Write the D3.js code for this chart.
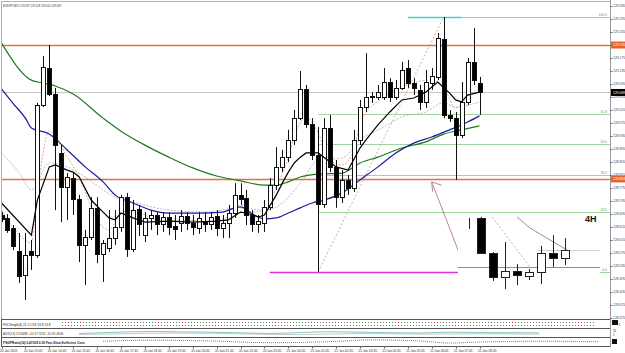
<!DOCTYPE html>
<html><head><meta charset="utf-8">
<script src="https://cdn.jsdelivr.net/npm/d3@7"></script>
<style>body{margin:0;background:#fff;overflow:hidden}svg{display:block}text{font-family:"Liberation Sans",Arial,sans-serif}</style>
</head><body><svg id="c" width="625" height="353"></svg>
<script>
// ---------- DATA ----------
const symbolTitle = "EURJPY,M15  129.097 129.118 129.050 129.069";
const timeLabels = ["20 Jan 2015","20 Jan 13:45","20 Jan 14:45","20 Jan 15:45","20 Jan 16:45","20 Jan 17:45","20 Jan 18:45","20 Jan 19:45","20 Jan 20:45","20 Jan 21:45","20 Jan 22:45","20 Jan 23:45","21 Jan 00:45","21 Jan 01:45","21 Jan 02:45","21 Jan 03:45","21 Jan 04:45","21 Jan 05:45","21 Jan 06:45","21 Jan 07:45","21 Jan 08:45"];
const priceTicks = [129.335,129.295,129.255,129.215,129.175,129.135,129.095,129.055,129.015,128.975,128.935,128.895,128.855,128.815,128.775,128.735,128.695,128.655,128.615,128.575,128.535,128.495,128.455,128.415,128.375];

const open = [128.692,128.683,128.652,128.581,128.507,128.581,128.569,129.030,129.144,129.064,
128.883,128.778,128.806,128.741,128.600,128.624,128.714,128.572,128.590,128.621,
128.655,128.747,128.587,128.710,128.630,128.683,128.692,128.664,128.686,128.658,
128.667,128.689,128.667,128.652,128.673,128.664,128.689,128.652,128.667,128.698,
128.754,128.744,128.692,128.664,128.667,128.717,128.784,128.840,128.870,128.923,
128.990,129.080,128.972,128.877,128.726,128.960,128.840,128.747,128.800,128.775,
128.923,129.024,129.058,129.055,129.055,129.101,129.055,129.083,129.144,129.098,
129.077,129.040,129.098,129.117,129.234,129.000,128.990,128.938,129.040,129.163,
129.098];
const high = [128.701,128.695,128.661,128.637,128.637,128.615,129.037,129.181,129.215,129.083,
128.907,128.821,128.824,128.754,128.646,128.747,128.747,128.615,128.707,128.707,
128.754,128.760,128.738,128.723,128.701,128.707,128.701,128.701,128.701,128.692,
128.707,128.701,128.692,128.701,128.701,128.701,128.707,128.692,128.723,128.790,
128.790,128.769,128.707,128.692,128.738,128.806,128.901,128.892,128.954,129.015,
129.135,129.092,128.990,128.963,128.990,129.000,128.861,128.830,128.815,128.954,
129.046,129.190,129.070,129.092,129.144,129.113,129.107,129.163,129.169,129.113,
129.092,129.138,129.144,129.252,129.301,129.015,129.009,129.101,129.175,129.267,
129.117];
const low = [128.670,128.637,128.584,128.483,128.430,128.523,128.560,129.024,129.058,128.707,
128.670,128.677,128.692,128.547,128.477,128.615,128.544,128.486,128.578,128.600,
128.640,128.563,128.578,128.627,128.609,128.646,128.630,128.640,128.630,128.615,
128.640,128.646,128.630,128.634,128.640,128.646,128.627,128.621,128.621,128.683,
128.723,128.661,128.640,128.637,128.640,128.707,128.769,128.824,128.855,128.907,
128.984,128.960,128.861,128.517,128.714,128.824,128.714,128.729,128.754,128.763,
128.907,129.009,129.037,129.046,129.046,129.040,129.046,129.077,129.083,129.061,
129.015,129.021,129.077,129.107,128.990,128.978,128.800,128.929,129.030,129.092,
129.000];
const close = [128.680,128.646,128.597,128.504,128.569,128.569,129.030,129.147,129.064,128.907,
128.778,128.809,128.741,128.600,128.624,128.714,128.572,128.606,128.621,128.655,
128.747,128.587,128.707,128.664,128.683,128.692,128.664,128.686,128.655,128.649,
128.689,128.667,128.655,128.683,128.664,128.686,128.652,128.667,128.698,128.754,
128.741,128.692,128.664,128.673,128.717,128.784,128.840,128.870,128.923,128.990,
129.080,128.972,128.877,128.726,128.960,128.840,128.747,128.800,128.775,128.923,
129.024,129.055,129.055,129.070,129.101,129.055,129.083,129.138,129.098,129.083,
129.040,129.101,129.120,129.237,129.000,128.990,128.938,129.040,129.163,129.107,
129.069];

// moving averages: [bar index, price]
const blackMA = [[0,128.729],[5,128.630],[6,128.738],[8,128.840],[9,128.846],[11,128.830],[12,128.824],[13,128.809],[15,128.738],[17,128.701],[18,128.683],[19,128.677],[20,128.698],[22,128.683],[24,128.670],[28,128.673],[32,128.670],[36,128.673],[38,128.677],[40,128.701],[41,128.698],[43,128.686],[44,128.692],[45,128.723],[46,128.754],[47,128.790],[48,128.824],[49,128.852],[50,128.870],[51,128.883],[53,128.883],[55,128.855],[56,128.840],[58,128.830],[60,128.898],[61,128.923],[63,128.969],[65,129.009],[67,129.046],[69,129.052],[71,129.070],[73,129.101],[75,129.067],[76,129.046],[77,129.040],[78,129.061],[80,129.070]];
const blueMA = [[0,129.080],[2,129.034],[4,128.990],[5,128.960],[8,128.941],[11,128.892],[14,128.840],[17,128.794],[19,128.754],[22,128.729],[25,128.707],[28,128.698],[33,128.698],[37,128.701],[39,128.714],[40,128.717],[42,128.695],[44,128.680],[46,128.683],[48,128.698],[50,128.714],[52,128.729],[54,128.738],[57,128.760],[60,128.800],[63,128.840],[66,128.883],[69,128.913],[72,128.932],[75,128.954],[77,128.969],[78,128.978],[80,128.997]];
const greenMA = [[0,129.221],[5,129.107],[7,129.098],[9,129.089],[12,129.064],[17,128.990],[20,128.950],[24,128.907],[28,128.870],[32,128.837],[36,128.812],[40,128.797],[44,128.784],[46,128.784],[48,128.794],[50,128.809],[53,128.818],[57,128.821],[60,128.852],[63,128.870],[67,128.898],[71,128.917],[74,128.941],[77,128.954],[80,128.966]];
const salmonMA = [[0,128.707],[3,128.630],[5,128.606],[6,128.760],[8,128.950],[11,128.870],[13,128.809],[15,128.717],[17,128.655],[18,128.646],[20,128.698],[22,128.707],[26,128.677],[30,128.677],[34,128.673],[38,128.686],[40,128.723],[42,128.701],[44,128.707],[46,128.778],[48,128.870],[49,128.932],[51,128.994],[53,128.944],[55,128.861],[57,128.846],[59,128.892],[60,128.975],[64,129.055],[67,129.086],[72,129.107],[74,129.086],[76,129.021],[78,129.055],[80,129.083]];
const grayMA = [[0,128.883],[3,128.821],[5,128.769],[8,128.852],[11,128.840],[14,128.809],[17,128.769],[19,128.747],[22,128.732],[28,128.707],[34,128.701],[40,128.714],[44,128.707],[47,128.729],[50,128.790],[53,128.861],[57,128.867],[60,128.923],[64,128.963],[67,128.994],[71,129.009],[74,129.037],[76,129.024],[80,129.040]];

const orangeLevels = [129.215, 128.803];
const bidPrice = 129.069;
const fibLabels = ["100.0","61.8","50.0","38.2","23.6","0.0"];
const fibRatios = [1, 0.618, 0.5, 0.382, 0.236, 0];
const fibLowBar = 53, fibLowPrice = 128.517, fibHighBar = 74, fibHighPrice = 129.301;
const cyanLine = {from: 68, to: 77.1, price: 129.301};
const magentaLine = {from: 44.9, to: 76.4, price: 128.517};
const arrowPts = [[72.0, 128.794],[77.3, 128.542]];

// 4H inset (pasted picture)
const insetOpen  = [null,128.683,128.575,128.501,128.520,128.504,128.517,128.575,128.560];
const insetHigh  = [128.683,128.686,128.578,128.609,128.541,128.526,128.597,128.630,128.621];
const insetLow   = [128.649,128.572,128.489,128.464,128.476,128.492,128.480,128.532,128.538];
const insetClose = [null,128.575,128.501,128.520,128.507,128.517,128.575,128.560,128.584];
const insetDashed = [[1.92,128.686],[5.08,128.532]];
const insetGrayLine = [[4.0,128.686],[5.08,128.652],[8.17,128.584]];
const insetOrange = {from:-0.92, to:10.9, price:128.532};
const insetGrayH = {from:5.75, to:10.9, price:128.584};

// sub windows
const sub1Text = "FXCSingle(4) 21.2 13.8 13.8 13.8";
const sub1Marks = "ggrgg.r.g..r...g.rr..g...r....g.r..g....r..rg...g..r.g.......r..g...g..r........gg.r.......r......g..r....g.....r...g.......r..g...r....g......r.g....r..g.....g...r.....g..r.....";
const sub2Text = "ADX(14) 25.8488 +DI:27.9211 -DI:29.4906";
const adxTeal = [[13,22],[18,28],[25,35],[30,32],[35,30],[40,26],[45,22],[50,28],[55,33],[60,30],[65,27],[70,25],[75,30],[80,28],[90,26]];
const adxGray = [[13,16],[20,20],[30,25],[40,20],[50,15],[60,22],[70,18],[80,20],[90,18]];
const sub3Text = "PSGPRatio(14) 0.47308 0.05  Fast,Slow,Sufficient Conv";
const sub3Line = [[17,0.2],[25,0.5],[35,0.3],[45,-0.2],[55,0.1],[62,0.6],[70,0.3],[75,-0.3],[80,0.0],[90,0.2],[100,0.1]];

// ---------- DRAW ----------
const svg = d3.select('#c');
svg.append('rect').attr('width',625).attr('height',353).attr('fill','#fff');
const R = 610, MB = 319;
const x = d3.scaleLinear().domain([0,80]).range([1.5,479.5]);
const y = d3.scaleLinear().domain([129.3535,128.372]).range([0,319]);
const xi = d3.scaleLinear().domain([0,8]).range([469,565]);

const defs = svg.append('defs');
defs.append('clipPath').attr('id','mainClip').append('rect').attr('x',1).attr('y',2).attr('width',R-1).attr('height',MB-2);
const g = svg.append('g').attr('clip-path','url(#mainClip)');

// horizontal bid line
g.append('line').attr('x1',0).attr('x2',R).attr('y1',Math.round(y(bidPrice))+0.5).attr('y2',Math.round(y(bidPrice))+0.5).attr('stroke','#c8c8c8').attr('stroke-width',1);

// fib levels (100 level visible only right of the high)
fibRatios.forEach((r,k)=>{
  const p = fibLowPrice + r*(fibHighPrice-fibLowPrice);
  const yy = Math.round(y(p))+0.5;
  const start = r===1 ? x(fibHighBar) : x(fibLowBar);
  g.append('line').attr('x1',start).attr('x2',R).attr('y1',yy).attr('y2',yy).attr('stroke','#9fd69f').attr('stroke-width',1);
  svg.append('text').attr('x',607).attr('y',yy-1.2).attr('text-anchor','end').attr('font-size',3.4).attr('fill','#58a858').text(fibLabels[k]);
});
// fib diagonal
g.append('line').attr('x1',x(fibLowBar)).attr('y1',y(fibLowPrice)).attr('x2',x(fibHighBar)).attr('y2',y(fibHighPrice))
 .attr('stroke','#d9907c').attr('stroke-width',0.8).attr('stroke-dasharray','2,2');

// orange levels
orangeLevels.forEach(p=>{
  const yy = Math.round(y(p))+0.5;
  g.append('line').attr('x1',0).attr('x2',R).attr('y1',yy).attr('y2',yy).attr('stroke','#e8703c').attr('stroke-width',1.3);
});
// cyan and magenta
const hseg = (o,col,w)=>{const yy=Math.round(y(o.price))+0.5; g.append('line').attr('x1',x(o.from)).attr('x2',x(o.to)).attr('y1',yy).attr('y2',yy).attr('stroke',col).attr('stroke-width',w);};
hseg(cyanLine,'#3fd3cf',1.6);
hseg(magentaLine,'#e22ee2',1.5);

// MAs
const lineGen = d3.line().x(d=>x(d[0])).y(d=>y(d[1]));
const smooth = d3.line().x(d=>x(d[0])).y(d=>y(d[1])).curve(d3.curveMonotoneX);
g.append('path').attr('d',smooth(grayMA)).attr('fill','none').attr('stroke','#a8a8a8').attr('stroke-width',0.8).attr('stroke-dasharray','2,1.5');
g.append('path').attr('d',smooth(salmonMA)).attr('fill','none').attr('stroke','#e0957a').attr('stroke-width',0.8).attr('stroke-dasharray','2,1.5');
g.append('path').attr('d',smooth(greenMA)).attr('fill','none').attr('stroke','#1f7a1f').attr('stroke-width',1.2);
g.append('path').attr('d',smooth(blueMA)).attr('fill','none').attr('stroke','#1c1c9c').attr('stroke-width',1.2);

// candles
const bars = open.map((o,i)=>({i,o,h:high[i],l:low[i],c:close[i]}));
const cg = g.append('g');
bars.forEach(b=>{
  const cx = Math.round(x(b.i));
  cg.append('line').attr('x1',cx+0.5).attr('x2',cx+0.5).attr('y1',y(b.h)).attr('y2',y(b.l)).attr('stroke','#111').attr('stroke-width',1);
  const top = Math.round(y(Math.max(b.o,b.c))), bot = Math.round(y(Math.min(b.o,b.c)));
  const up = b.c >= b.o;
  cg.append('rect').attr('x',cx-2+0.5).attr('y',top+0.5).attr('width',4).attr('height',Math.max(0,bot-top))
    .attr('fill',up?'#fff':'#000').attr('stroke','#111').attr('stroke-width',1);
});
g.append('path').attr('d',lineGen(blackMA)).attr('fill','none').attr('stroke','#000').attr('stroke-width',1.2);

// arrow
const ax1=x(arrowPts[0][0]), ay1=y(arrowPts[0][1]), ax2=x(arrowPts[1][0]), ay2=y(arrowPts[1][1]);
const ac='#b58a98';
g.append('line').attr('x1',ax1).attr('y1',ay1).attr('x2',ax2).attr('y2',ay2).attr('stroke',ac).attr('stroke-width',1);
g.append('path').attr('d',`M${ax1+10},${ay1+3.5}L${ax1},${ay1}L${ax1+1},${ay1+10}`).attr('fill','none').attr('stroke',ac).attr('stroke-width',1);
g.append('path').attr('d',`M${ax2-5},${ay2-6}L${ax2},${ay2}L${ax2+8},${ay2-3}`).attr('fill','none').attr('stroke',ac).attr('stroke-width',1);

// inset 4H picture
const ig = svg.append('g');
ig.append('rect').attr('x',458).attr('y',214).attr('width',142).attr('height',78).attr('fill','#fff');
const ihs = (o,col)=>{const yy=Math.round(y(o.price))+0.5; ig.append('line').attr('x1',xi(o.from)).attr('x2',xi(o.to)).attr('y1',yy).attr('y2',yy).attr('stroke',col).attr('stroke-width',1.2);};
ihs(insetGrayH,'#d0d0d0');
ihs(insetOrange,'#e8703c');
const ili = d3.line().x(d=>xi(d[0])).y(d=>y(d[1]));
ig.append('path').attr('d',ili(insetDashed)).attr('fill','none').attr('stroke','#d9907c').attr('stroke-width',0.8).attr('stroke-dasharray','2,2');
ig.append('path').attr('d',ili(insetGrayLine)).attr('fill','none').attr('stroke','#777').attr('stroke-width',0.8);
insetHigh.forEach((h,j)=>{
  const cx = Math.round(xi(j));
  ig.append('line').attr('x1',cx+0.5).attr('x2',cx+0.5).attr('y1',y(h)).attr('y2',y(insetLow[j])).attr('stroke','#222').attr('stroke-width',1);
  if(insetOpen[j]!==null){
    const o=insetOpen[j], c=insetClose[j];
    const top=Math.round(y(Math.max(o,c))), bot=Math.round(y(Math.min(o,c)));
    ig.append('rect').attr('x',cx-4+0.5).attr('y',top+0.5).attr('width',8).attr('height',Math.max(1,bot-top))
      .attr('fill',c>=o?'#fff':'#000').attr('stroke','#222').attr('stroke-width',1);
  }
});
svg.append('text').attr('x',585).attr('y',222).attr('font-size',9).attr('font-weight','bold').attr('fill','#111').text('4H');

// header
svg.append('text').attr('x',3).attr('y',7).attr('font-size',2.7).attr('fill','#333').text(symbolTitle);

// frames
svg.append('rect').attr('x',1.5).attr('y',1.5).attr('width',R-1).attr('height',MB-1).attr('fill','none').attr('stroke','#b0b0b0');
[[319.5,328.5],[328.5,337.5],[337.5,346.5]].forEach(([a,b])=>{
  svg.append('rect').attr('x',1.5).attr('y',a).attr('width',R-1).attr('height',b-a).attr('fill','none').attr('stroke','#555');
});
svg.append('line').attr('x1',R+0.5).attr('x2',R+0.5).attr('y1',0).attr('y2',347).attr('stroke','#999');

// price axis
priceTicks.forEach(p=>{
  const yy = y(p);
  svg.append('line').attr('x1',R).attr('x2',R+2.5).attr('y1',Math.round(yy)+0.5).attr('y2',Math.round(yy)+0.5).attr('stroke','#777');
  svg.append('text').attr('x',613).attr('y',yy).attr('dy','0.35em').attr('font-size',3.4).attr('fill','#444').text(p.toFixed(3));
});
const tag = (p,bg)=>{const yy=y(p); svg.append('rect').attr('x',611).attr('y',yy-3.5).attr('width',14).attr('height',7).attr('fill',bg);
  svg.append('text').attr('x',613).attr('y',yy).attr('dy','0.35em').attr('font-size',3.4).attr('fill','#fff').text(p.toFixed(3));};
orangeLevels.forEach(p=>tag(p,'#e8622e'));
tag(bidPrice,'#000');

// sub window 1
svg.append('text').attr('x',3).attr('y',325.5).attr('font-size',3.2).attr('fill','#222').text(sub1Text);
const xm = d3.scaleLinear().domain([0,1]).range([62,65]);
sub1Marks.split('').forEach((m,k)=>{
  const cx = Math.round(xm(k));
  if (cx>R-3) return;
  const col = m==='g'?'#2f9a2f':(m==='r'?'#cc3030':'#777');
  svg.append('rect').attr('x',cx).attr('y',322).attr('width',1).attr('height',1).attr('fill',col);
  svg.append('rect').attr('x',cx).attr('y',325).attr('width',1).attr('height',1).attr('fill',col);
});
svg.append('rect').attr('x',612).attr('y',320).attr('width',6).attr('height',5).attr('fill','#111');
svg.append('text').attr('x',618.5).attr('y',326).attr('font-size',3).attr('fill','#222').text('2');

// sub window 2
const y2 = d3.scaleLinear().domain([50,0]).range([329,337]);
const l2 = d3.line().x(d=>x(d[0])).y(d=>y2(d[1])).curve(d3.curveMonotoneX);
svg.append('path').attr('d',l2(adxGray)).attr('fill','none').attr('stroke','#b0b0b0').attr('stroke-width',0.7);
svg.append('path').attr('d',l2(adxTeal)).attr('fill','none').attr('stroke','#64bdb3').attr('stroke-width',0.8);
svg.append('rect').attr('x',2).attr('y',330).attr('width',58).attr('height',5).attr('fill','#fff');
svg.append('text').attr('x',3).attr('y',334.5).attr('font-size',3.2).attr('fill','#333').text(sub2Text);
svg.append('text').attr('x',613).attr('y',332).attr('font-size',3).attr('fill','#222').text('31');
svg.append('text').attr('x',613).attr('y',336).attr('font-size',3).attr('fill','#222').text('1');

// sub window 3
const y3 = d3.scaleLinear().domain([1,-1]).range([338.5,345.5]);
const l3 = d3.line().x(d=>x(d[0])).y(d=>y3(d[1])).curve(d3.curveMonotoneX);
svg.append('path').attr('d',l3(sub3Line)).attr('fill','none').attr('stroke','#444').attr('stroke-width',0.7).attr('stroke-dasharray','1,1');
svg.append('rect').attr('x',2).attr('y',339).attr('width',78).attr('height',5).attr('fill','#fff');
svg.append('text').attr('x',3).attr('y',343.5).attr('font-size',3.2).attr('font-weight','bold').attr('fill','#222').text(sub3Text);
svg.append('rect').attr('x',612).attr('y',339).attr('width',5).attr('height',5).attr('fill','#111');

// time axis
timeLabels.forEach((t,k)=>{
  const bx = x(k*4);
  svg.append('line').attr('x1',Math.round(bx)+0.5).attr('x2',Math.round(bx)+0.5).attr('y1',346.5).attr('y2',348.5).attr('stroke','#666');
  svg.append('text').attr('x',bx-1.5).attr('y',351.5).attr('font-size',3.2).attr('fill','#333').text(t);
});
</script></body></html>
